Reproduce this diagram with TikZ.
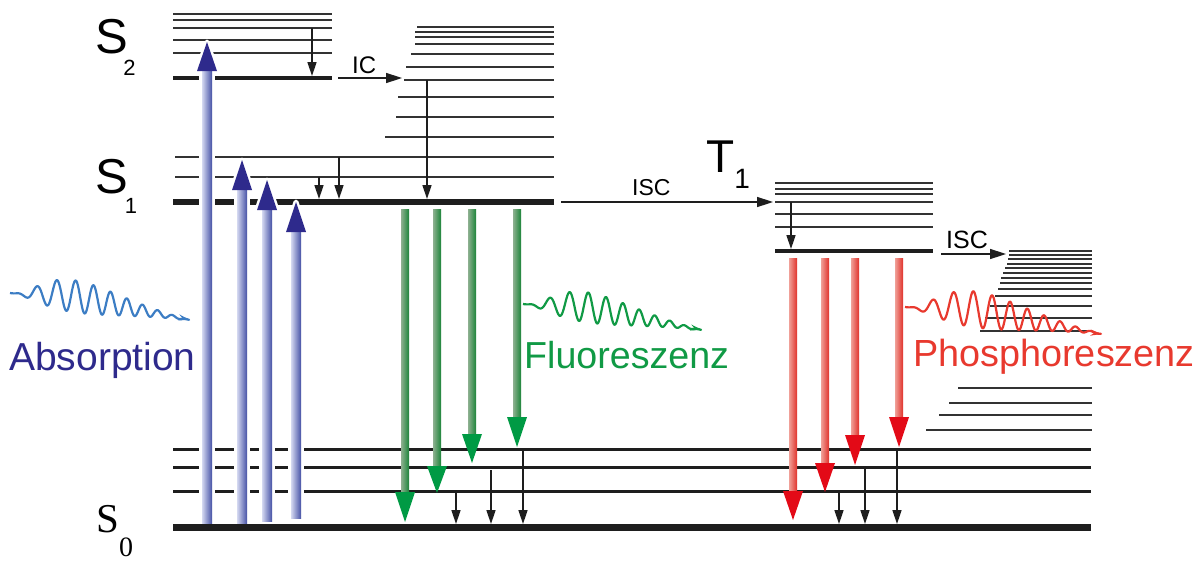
\documentclass[tikz,border=0pt]{standalone}
\usepackage{fontspec}
\setmainfont{Liberation Sans}
\newfontfamily\seriffont{Liberation Serif}
\usetikzlibrary{arrows.meta}
\definecolor{lvl}{HTML}{1E1E1E}
\definecolor{thinlvl}{HTML}{333333}
\definecolor{absdark}{HTML}{2E2A8C}
\definecolor{absshaft}{HTML}{4652A6}
\definecolor{abslight}{HTML}{D4D8F0}
\definecolor{abswave}{HTML}{3C7DC4}
\definecolor{fluohead}{HTML}{009A44}
\definecolor{fluoshaft}{HTML}{1C8439}
\definecolor{fluolight}{HTML}{8DB090}
\definecolor{fluotext}{HTML}{109A45}
\definecolor{phohead}{HTML}{E30A17}
\definecolor{phoshaft}{HTML}{E0322B}
\definecolor{pholight}{HTML}{F0A098}
\definecolor{photext}{HTML}{E8392E}
\tikzset{
  lv/.style={draw=thinlvl, line width=1.8pt},
  lvfine/.style={draw=thinlvl, line width=1.5pt},
  lvsz/.style={draw=lvl, line width=3pt},
  lvthick/.style={draw=lvl, line width=6pt},
  relax/.style={draw=lvl, line width=1.5pt, -{Triangle[length=14pt,width=9pt]}},
  trans/.style={draw=lvl, line width=1.5pt, -{Triangle[length=16pt,width=10pt]}},
  lbl/.style={inner sep=0pt, anchor=base west},
}
% coloured transition: #1 x, #2 y start, #3 y head base, #4 y tip, #5 half width, #6 light, #7 dark, #8 head
\newcommand\colarrow[8]{%
  \shade[left color=#6, right color=#7] ({#1-#5},#2) rectangle ({#1+#5},#3);
  \fill[#8] ({#1-10},#3) -- ({#1+10},#3) -- (#1,#4) -- cycle;
}
% absorption arrow with white halo
\newcommand\absarrow[4]{%
  \fill[white] ({#1-8},#2) rectangle ({#1+8},#3);
  \filldraw[white, line width=5pt, line join=round] ({#1-10},#3) -- ({#1+10},#3) -- (#1,#4) -- cycle;
  \colarrow{#1}{#2}{#3}{#4}{5}{abslight}{absshaft}{absdark}
}
% photon wave: #1 x0, #2 y0, #3 x1, #4 y1, #5 amp, #6 colour, #7 linear freq, #8 chirp
\newcommand\photon[8]{%
  \draw[#6, line width=2.2pt, line join=round, -{Stealth[length=11pt,width=6pt]}]
    plot[domain=0:1, samples=320, variable=\t]
    ({#1+(#3-#1)*\t},
     {#2+(#4-#2)*\t - #5*(\t/0.36)^2.5*exp(2.5*(1-\t/0.36))*(1-\t^6)*(0.4+sin(360*(#7*\t+#8*\t*\t)))});
}
\begin{document}
\begin{tikzpicture}[x=1pt, y=-1pt]
\fill[white] (0,0) rectangle (1203,560);
\useasboundingbox (0,0) rectangle (1203,560);

% ---------- S2 ----------
\foreach \y in {14,20,28,40,53} \draw[lv] (173,\y) -- (332,\y);
\draw[lvthick, line width=4pt] (173,78) -- (332,78);
% ---------- upper S1 vibrational ----------
\foreach \xl/\y in {417/27,415/32,415/37,415/44,411/54,406/67,404/80,398/97,396/117,385/137}
  \draw[lv] (\xl,\y) -- (554,\y);
% ---------- S1 ----------
\draw[lv] (175,157) -- (554,157);
\draw[lv] (175,177) -- (554,177);
\draw[lvthick] (173,202) -- (554,202);
% ---------- T1 ----------
\foreach \y in {183,189,194,202,214,227} \draw[lv] (775,\y) -- (933,\y);
\draw[lvthick, line width=4pt] (775,251) -- (933,251);
% ---------- S0 vibrational (right) ----------
\foreach \xl/\y in {1009/251,1009/255,1008/259,1007/264,1005/268,1003/273,1001/278,1000/283,998/289,995/296,990/306,985/318,980/331}
  \draw[lvfine] (\xl,\y) -- (1092,\y);
\foreach \xl/\y in {958/388,949/403,939/415,926/430}
  \draw[lv, line width=2pt] (\xl,\y) -- (1092,\y);
% ---------- S0 ----------
\foreach \y in {449,467,491} \draw[lvsz] (173,\y) -- (1091,\y);
\draw[lvthick, line width=7pt] (173,527) -- (1091,527);

% ---------- state labels ----------
\node[lbl] (s2) at (95,53) {\fontsize{49}{50}\selectfont S\kern-4.5pt\raisebox{-22pt}{\fontsize{22}{24}\selectfont 2}};
\node[lbl] (s1) at (95,193) {\fontsize{49}{50}\selectfont S\kern-3pt\raisebox{-20pt}{\fontsize{22}{24}\selectfont 1}};
\node[lbl] (s0) at (96,532) {\seriffont\fontsize{41}{42}\selectfont S\raisebox{-24pt}{\fontsize{28}{30}\selectfont 0}};
\node[lbl] (t1) at (706,172) {\fontsize{46}{48}\selectfont T\raisebox{-16pt}{\fontsize{28}{30}\selectfont 1}};

% ---------- absorption ----------
\absarrow{207}{523}{71}{42}
\absarrow{242}{523}{190}{160}
\absarrow{267}{521}{210}{180}
\absarrow{296}{518}{232}{202}

% ---------- relaxation arrows ----------
\coordinate (a1) at (312,28);  \coordinate (b1) at (312,76);
\coordinate (a2) at (319,177); \coordinate (b2) at (319,199);
\coordinate (a3) at (339,157); \coordinate (b3) at (339,199);
\coordinate (a4) at (427,80);  \coordinate (b4) at (427,199);
\coordinate (a5) at (791,202); \coordinate (b5) at (791,249);
\coordinate (a6) at (456,491); \coordinate (b6) at (456,524);
\coordinate (a7) at (491,470); \coordinate (b7) at (491,524);
\coordinate (a8) at (523,449); \coordinate (b8) at (523,524);
\coordinate (a9) at (839,491); \coordinate (b9) at (839,524);
\coordinate (a10) at (865,467); \coordinate (b10) at (865,524);
\coordinate (a11) at (897,449); \coordinate (b11) at (897,524);
\foreach \i in {1,...,11} \draw[relax] (a\i) -- (b\i);

% ---------- IC / ISC ----------
\coordinate (ic1) at (338,78);  \coordinate (ic2) at (402,78);
\coordinate (isc1) at (561,202); \coordinate (isc2) at (773,202);
\coordinate (isd1) at (941,254); \coordinate (isd2) at (1006,254);
\draw[trans] (ic1) -- (ic2);
\draw[trans] (isc1) -- (isc2);
\draw[trans] (isd1) -- (isd2);
\node[lbl] (ic) at (352,73) {\fontsize{24}{26}\selectfont IC};
\node[lbl] (isc) at (632,195) {\fontsize{23}{25}\selectfont ISC};
\node[lbl] (isc2l) at (946,248) {\fontsize{25}{27}\selectfont ISC};

% ---------- fluorescence ----------
\colarrow{405}{209}{492}{522}{4}{fluolight}{fluoshaft}{fluohead}
\colarrow{437}{209}{466}{493}{4}{fluolight}{fluoshaft}{fluohead}
\colarrow{472}{209}{434}{463}{4}{fluolight}{fluoshaft}{fluohead}
\colarrow{517}{209}{417}{447}{4}{fluolight}{fluoshaft}{fluohead}

% ---------- phosphorescence ----------
\colarrow{793}{258}{491}{520}{4}{pholight}{phoshaft}{phohead}
\colarrow{825}{258}{463}{492}{4}{pholight}{phoshaft}{phohead}
\colarrow{855}{258}{435}{465}{4}{pholight}{phoshaft}{phohead}
\colarrow{899}{258}{417}{447}{4}{pholight}{phoshaft}{phohead}

% ---------- photons ----------
\photon{10}{293}{190}{320}{16}{abswave}{8}{2.5}
\photon{523}{304}{702}{330}{15}{fluotext}{8}{2.5}
\photon{905}{307}{1102}{334}{18}{photext}{8.5}{2.5}

\node[lbl, text=absdark] (abs) at (9,370) {\fontsize{39}{41}\selectfont Absorption};
\node[lbl, text=fluotext] (flu) at (524,368) {\fontsize{37.6}{39}\selectfont Fluoreszenz};
\node[lbl, text=photext] (pho) at (913,366) {\fontsize{37.8}{39}\selectfont Phosphoreszenz};
\end{tikzpicture}
\end{document}
